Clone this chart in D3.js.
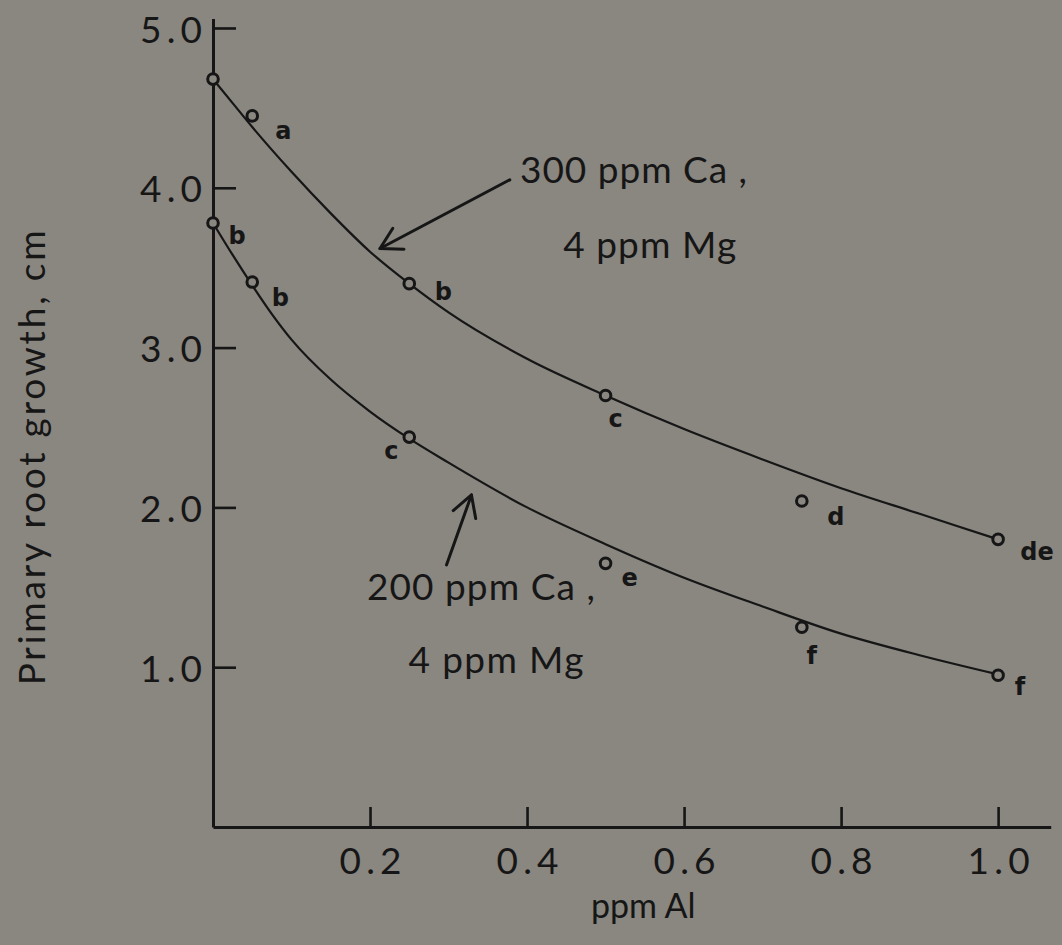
<!DOCTYPE html>
<html>
<head>
<meta charset="utf-8">
<script src="https://cdn.jsdelivr.net/npm/d3@7/dist/d3.min.js"></script>
<style>
  html, body { margin: 0; padding: 0; background: #8a8680; }
  svg { display: block; }
</style>
</head>
<body>
<script>
// ---- data ----
const xTicks = [0.2, 0.4, 0.6, 0.8, 1.0];
const yTicks = [1, 2, 3, 4, 5];
const alConc = [0, 0.05, 0.25, 0.5, 0.75, 1.0];
const growth300 = [4.68, 4.45, 3.40, 2.70, 2.04, 1.80];
const growth200 = [3.78, 3.41, 2.44, 1.65, 1.25, 0.95];
const letters300 = ["", "a", "b", "c", "d", "de"];
const letters200 = ["b", "b", "c", "e", "f", "f"];
// fitted curves as drawn in the figure
const curveX300 = [0, 0.025, 0.05, 0.1, 0.15, 0.2, 0.25, 0.3, 0.4, 0.5, 0.6, 0.7, 0.8, 0.9, 1.0];
const curveY300 = [4.68, 4.53, 4.38, 4.10, 3.84, 3.60, 3.40, 3.22, 2.93, 2.70, 2.49, 2.30, 2.12, 1.96, 1.80];
const curveX200 = [0, 0.025, 0.05, 0.075, 0.1, 0.15, 0.2, 0.25, 0.3, 0.4, 0.5, 0.6, 0.7, 0.8, 0.9, 1.0];
const curveY200 = [3.78, 3.58, 3.39, 3.21, 3.05, 2.80, 2.60, 2.43, 2.28, 2.00, 1.77, 1.56, 1.38, 1.21, 1.075, 0.955];
const xTitle = "ppm Al";
const yTitle = "Primary root growth, cm";
const note300 = ["300 ppm Ca ,", "4 ppm Mg"];
const note200 = ["200 ppm Ca ,", "4 ppm Mg"];

// ---- layout ----
const W = 1062, H = 945;
const ink = "#161616";
const bg = "#8a8680";
const font = "Lato, 'Open Sans', sans-serif";
const x = d3.scaleLinear().domain([0, 1.067]).range([213, 1050.7]);
const y = d3.scaleLinear().domain([0, 5.06]).range([827, 18.4]);

const svg = d3.select("body").append("svg").attr("width", W).attr("height", H);
svg.append("rect").attr("width", W).attr("height", H).attr("fill", bg);

// axes
const yAxis = d3.axisLeft(y).tickValues(yTicks).tickFormat(d3.format(".1f"))
  .tickSizeInner(-23).tickSizeOuter(0).tickPadding(11);
const gy = svg.append("g").attr("transform", `translate(${x(0)},0)`).call(yAxis);
const xAxis = d3.axisBottom(x).tickValues(xTicks).tickFormat(d3.format(".1f"))
  .tickSizeInner(-20).tickSizeOuter(0).tickPadding(21);
const gx = svg.append("g").attr("transform", `translate(0,${y(0)})`).call(xAxis);
[gx, gy].forEach(g => {
  g.select(".domain").attr("stroke", ink).attr("stroke-width", 3);
  g.selectAll(".tick line").attr("stroke", ink).attr("stroke-width", 2.6);
  g.selectAll(".tick text").attr("fill", ink).attr("font-family", font)
    .attr("font-size", 37).attr("textLength", 62).attr("lengthAdjust", "spacing");
});
gy.selectAll(".tick text").attr("dy", "0.38em");

// axis titles
svg.append("text").attr("x", x(0.548)).attr("y", 918)
  .attr("text-anchor", "middle").attr("font-family", font).attr("font-size", 34)
  .attr("fill", ink).text(xTitle);
svg.append("text").attr("transform", `translate(45,${y(2.31)}) rotate(-90)`)
  .attr("text-anchor", "middle").attr("font-family", font).attr("font-size", 37)
  .attr("fill", ink).attr("textLength", 455).attr("lengthAdjust", "spacing").text(yTitle);

// curves
const line = d3.line().x(d => x(d[0])).y(d => y(d[1])).curve(d3.curveMonotoneX);
[[curveX300, curveY300], [curveX200, curveY200]].forEach(([cx, cy]) => {
  svg.append("path").datum(cx.map((v, i) => [v, cy[i]]))
    .attr("d", line).attr("fill", "none").attr("stroke", ink).attr("stroke-width", 2.2);
});

// points + letters
const off300 = [null, [31, 15], [34, 8], [10, 23], [34, 16], [39, 13]];
const off200 = [[24, 13], [28, 16], [-18, 14], [24, 15], [10, 29], [22, 12]];
function drawSeries(vals, letters, offs) {
  const pts = alConc.map((a, i) => ({ a, v: vals[i], l: letters[i], o: offs[i] }));
  svg.append("g").selectAll("circle").data(pts).join("circle")
    .attr("cx", d => x(d.a)).attr("cy", d => y(d.v)).attr("r", 5.3)
    .attr("fill", bg).attr("stroke", ink).attr("stroke-width", 3);
  svg.append("g").selectAll("text").data(pts.filter(d => d.l)).join("text")
    .attr("x", d => x(d.a) + d.o[0]).attr("y", d => y(d.v) + d.o[1])
    .attr("text-anchor", "middle").attr("dominant-baseline", "central")
    .attr("font-family", "'DejaVu Sans', sans-serif")
    .attr("font-weight", "bold").attr("font-size", 24).attr("fill", ink)
    .text(d => d.l);
}
drawSeries(growth300, letters300, off300);
drawSeries(growth200, letters200, off200);

// annotations
function arrow(from, to) {
  const x0 = x(from[0]), y0 = y(from[1]), x1 = x(to[0]), y1 = y(to[1]);
  const th = Math.atan2(y0 - y1, x0 - x1), L = 24, s = 0.52;
  const g = svg.append("g").attr("stroke", ink).attr("stroke-width", 3)
    .attr("fill", "none").attr("stroke-linecap", "round").attr("stroke-linejoin", "round");
  g.append("line").attr("x1", x0).attr("y1", y0).attr("x2", x1).attr("y2", y1);
  g.append("path").attr("d",
    `M${x1 + L * Math.cos(th + s)},${y1 + L * Math.sin(th + s)}L${x1},${y1}L${x1 + L * Math.cos(th - s)},${y1 + L * Math.sin(th - s)}`);
}
arrow([0.378, 4.05], [0.2127, 3.62]);
arrow([0.2974, 1.64], [0.3292, 2.078]);

function note(lines, xa, ya, xb, yb, w1, w2) {
  svg.append("text").attr("x", x(xa)).attr("y", y(ya)).attr("font-family", font)
    .attr("font-size", 37).attr("fill", ink).attr("textLength", w1)
    .attr("lengthAdjust", "spacing").text(lines[0]);
  svg.append("text").attr("x", x(xb)).attr("y", y(yb)).attr("font-family", font)
    .attr("font-size", 37).attr("fill", ink).attr("textLength", w2)
    .attr("lengthAdjust", "spacing").text(lines[1]);
}
note(note300, 0.391, 4.028, 0.446, 3.559, 227, 173);
note(note200, 0.196, 1.42, 0.249, 0.962, 228, 175);
</script>
</body>
</html>
